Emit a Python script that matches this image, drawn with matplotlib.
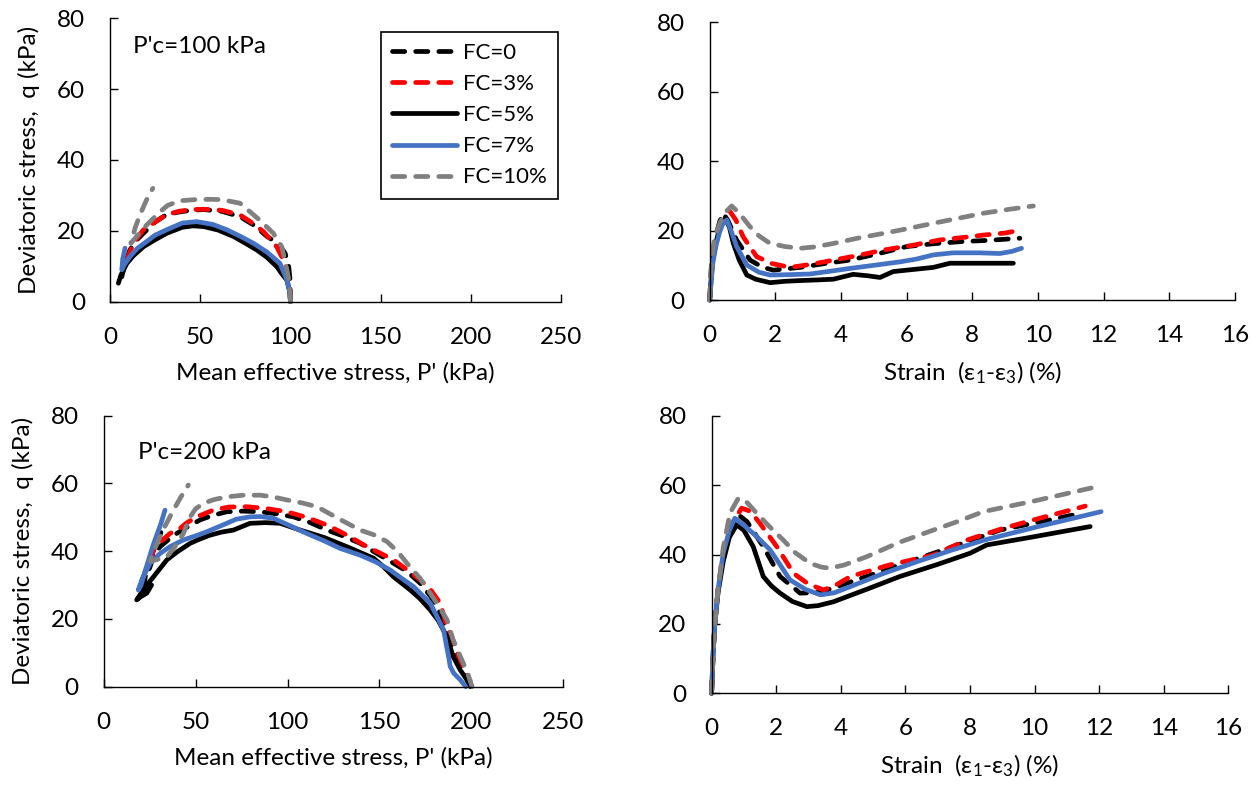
import matplotlib
matplotlib.use('Agg')
import matplotlib.pyplot as plt

plt.rcParams['font.family'] = ['Lato', 'DejaVu Sans']
plt.rcParams['mathtext.fontset'] = 'custom'
plt.rcParams['mathtext.rm'] = 'Lato'
plt.rcParams['mathtext.it'] = 'Lato:italic'
plt.rcParams['mathtext.default'] = 'rm'

labels = ['FC=0', 'FC=3%', 'FC=5%', 'FC=7%', 'FC=10%']
colors = ['black', '#FF0000', 'black', '#4472C4', '#808080']
styles = ['dash', 'dash', 'solid', 'solid', 'dash']

# --- P'c = 100 kPa : stress path (p', q) ---
p100_fc0 = [100, 99.8, 99, 97, 93, 87, 80, 72, 62, 52, 45, 38, 31, 25, 18.5, 14, 11, 8.5, 6.5]
q100_fc0 = [0, 6, 10, 13.7, 16.5, 18.4, 21.5, 24, 25.5, 26, 25.8, 25.3, 24.5, 22.5, 19.3, 17, 14.6, 11, 7]
p100_fc3 = [100, 99.5, 97, 92.4, 85, 78, 72, 62, 52, 45, 38, 31, 25, 18.5, 12.9, 9.3, 7.5]
q100_fc3 = [0, 5, 10.8, 15.5, 19.8, 22.5, 24.5, 25.8, 26.1, 26, 25.5, 24.5, 22.5, 20.3, 16.5, 11.8, 9]
p100_fc5 = [100, 99.5, 98, 95, 92.4, 87, 81.3, 75, 68.4, 60, 52, 46, 40, 31.4, 25, 18.5, 13, 9.3, 6, 4.6]
q100_fc5 = [0, 3, 6.1, 8, 9.9, 12.5, 14.6, 16.5, 18.4, 20.2, 21.2, 21.4, 21, 19.3, 17.5, 15.5, 13, 10.8, 7.5, 5.2]
p100_fc7 = [100, 99.5, 98, 94.2, 87, 79.4, 72, 64.7, 57, 48, 40, 31.4, 25, 20.3, 15, 11, 8, 6.5, 7, 8.3]
q100_fc7 = [0, 3, 6.1, 10.8, 14, 16.5, 18.5, 20.3, 21.8, 22.6, 22.2, 20.3, 18.8, 17, 15, 12.7, 10.5, 9, 12, 15.1]
p100_fc10 = [100, 99.5, 98, 95.2, 90.5, 83, 72, 62, 55.4, 47, 38.8, 32, 27.7, 20, 14, 11.5, 14, 17, 20, 23.7]
q100_fc10 = [0, 5, 9, 15.5, 19.3, 23, 27.8, 28.8, 28.9, 28.8, 28.5, 27.2, 25.4, 21.5, 18, 16.5, 21, 25, 28.5, 32]

# --- P'c = 100 kPa : strain vs q ---
e100_fc0 = [0, 0.05, 0.1, 0.2, 0.3, 0.41, 0.55, 0.82, 1.23, 1.6, 1.94, 2.75, 3.5, 4.27, 5.2, 6.0, 6.8, 7.62, 8.5, 9.45]
s100_fc0 = [0, 9, 14, 19, 22.5, 25, 23, 17.3, 11.5, 9.5, 8.6, 9.4, 10.5, 11.5, 13.5, 15.4, 16.2, 16.8, 17.2, 17.8]
e100_fc3 = [0, 0.05, 0.1, 0.2, 0.35, 0.5, 0.62, 0.8, 1.02, 1.43, 1.9, 2.45, 3.1, 3.77, 4.5, 5.29, 6.2, 7.01, 7.7, 8.33, 9.0, 9.5]
s100_fc3 = [0, 8, 13, 18, 21.5, 24, 25.5, 23, 18.2, 12.5, 10.5, 9.4, 10.3, 11.5, 12.8, 14.4, 15.8, 17.3, 18, 18.7, 19.3, 20.2]
e100_fc5 = [0, 0.05, 0.1, 0.2, 0.3, 0.47, 0.6, 0.72, 0.9, 1.13, 1.4, 1.84, 2.3, 2.75, 3.3, 3.77, 4.37, 4.8, 5.19, 5.59, 6.2, 6.81, 7.32, 8.0, 9.25]
s100_fc5 = [0, 7, 12, 17, 20.5, 23.5, 21, 16.3, 11.5, 7.2, 6, 5.0, 5.4, 5.6, 5.8, 6.0, 7.4, 7.0, 6.5, 8.2, 8.8, 9.4, 10.6, 10.6, 10.6]
e100_fc7 = [0, 0.05, 0.1, 0.2, 0.3, 0.4, 0.52, 0.65, 0.82, 1.13, 1.5, 1.84, 2.4, 3.05, 3.6, 4.27, 5.0, 5.8, 6.3, 6.81, 7.42, 8.2, 8.84, 9.2, 9.5]
s100_fc7 = [0, 6, 11, 16, 19.5, 22, 23.1, 20, 15.4, 10.1, 8, 7.2, 7.3, 7.5, 8.2, 9.1, 10, 11, 11.8, 13, 13.6, 13.6, 13.4, 14, 14.9]
e100_fc10 = [0, 0.03, 0.08, 0.15, 0.3, 0.45, 0.67, 0.9, 1.23, 1.5, 1.84, 2.3, 2.75, 3.2, 3.77, 4.5, 5.29, 6.0, 6.81, 7.6, 8.33, 9.1, 9.86]
s100_fc10 = [0, 8, 13, 18, 22, 25, 27.1, 25, 21.1, 18.5, 16.3, 15.4, 14.9, 15.3, 16.3, 17.8, 19.2, 20.5, 22.1, 23.6, 25, 26.1, 27.1]

# --- P'c = 200 kPa : stress path (p', q) ---
p200_fc0 = [200, 198, 195, 192, 188.6, 183.1, 178, 172.2, 165, 157.7, 148, 139.5, 130, 121.4, 112, 103.2, 94, 85.1, 76, 66.9,
            59, 52.4, 46, 39.7, 35, 30.6, 27, 25.2, 23, 21.5, 24, 27, 30, 33]
q200_fc0 = [0, 2.5, 4.9, 8, 12.8, 21.6, 26.5, 30.5, 34, 36.4, 39.5, 42.3, 44.5, 46.2, 48.5, 50.1, 51, 51.6, 51.8, 51.6,
            50.5, 49.2, 47.3, 45.2, 43.3, 41.3, 38.5, 35.4, 32.5, 30.5, 35, 40, 44, 48]
p200_fc3 = [200, 197, 193, 190.4, 186, 183.1, 178, 172.2, 165, 157.7, 150, 143.2, 132, 121.4, 110, 99.6, 88, 77.8, 68, 59.6,
            50.6, 45, 41.5, 36, 31, 27, 23.4, 22, 24, 27]
q200_fc3 = [0, 4, 9, 12.8, 19, 24.6, 28.5, 31.5, 34.5, 37.4, 39.5, 41.3, 44.8, 47.7, 50, 51.6, 52.6, 53.1, 53, 52.1,
            50.1, 48.3, 46.7, 45.2, 42.8, 40.3, 35.4, 33, 36, 40]
p200_fc5 = [199.5, 197, 194, 190, 186.8, 182, 177.7, 172, 166.8, 157.7, 152, 146.8, 140, 132.3, 120, 106.9, 96, 88, 79.6, 70.5,
            64, 57.8, 52, 47, 40, 34.3, 27, 22, 17.9, 20, 23.4, 26]
q200_fc5 = [0, 2.5, 4.9, 9, 14.7, 19.5, 22.6, 26, 28.5, 32.4, 35.5, 37.9, 39.5, 41.3, 44, 46.2, 48.2, 48.4, 48.2, 46.2,
            45.6, 44.7, 43.5, 42.3, 39.8, 37.4, 32.4, 29, 25.6, 26.5, 27.6, 30]
p200_fc7 = [197, 194, 190.4, 188.5, 187.6, 186.5, 184.9, 181, 177.7, 168.6, 162, 155.9, 148, 139.5, 128.6, 120, 110.5, 100,
            92.3, 85, 79.6, 72, 66.9, 56, 50, 43.3, 36, 30.6, 25.2, 21, 18.8, 20.5, 23, 27, 31, 33.3]
q200_fc7 = [0, 2, 4, 6, 8.9, 12, 16.7, 21, 24.6, 29.5, 32, 34.4, 36.8, 38.8, 40.8, 43, 45.2, 47.8,
            49.7, 50.2, 50.1, 49.4, 48.2, 45.7, 44.5, 43.3, 41.3, 39.3, 36.4, 32, 28.5, 30.5, 35, 42, 48, 52.1]
p200_fc10 = [200.4, 198, 194, 190, 186.8, 182, 177.7, 172, 165, 160, 154.1, 147, 139.5, 128, 116, 108, 99.6, 92, 85.1, 76,
             66.9, 60, 54.2, 50, 47, 43.3, 39, 34.3, 29, 25.2, 28, 32, 37.9, 42, 46]
q200_fc10 = [0, 4, 8.9, 14, 19.7, 24, 27.5, 32, 36.4, 39.8, 42.8, 44.8, 46.2, 49.5, 53.1, 54.2, 55.1, 56, 56.5, 56.5,
             56, 55.2, 54.1, 52.5, 50.1, 45.2, 41.5, 38.3, 37.5, 37, 41, 46, 52.1, 56, 59.5]

# --- P'c = 200 kPa : strain vs q ---
e200_fc0 = [0, 0.05, 0.1, 0.2, 0.36, 0.57, 0.83, 1.1, 1.6, 2.12, 2.74, 3.2, 3.57, 4.2, 4.8, 5.8, 6.87, 8.0, 8.93, 10.2, 11.42]
s200_fc0 = [0, 12, 20, 30, 40, 47.5, 51.5, 49.5, 42.3, 33.7, 28.9, 29, 29.8, 31.8, 33.7, 37, 40.4, 44, 47.1, 49.5, 51.9]
e200_fc3 = [0, 0.05, 0.1, 0.2, 0.36, 0.6, 0.93, 1.2, 1.5, 2.02, 2.54, 3.0, 3.47, 3.9, 4.3, 5.5, 6.87, 7.9, 9.0, 9.96, 11.57]
s200_fc3 = [0, 12, 20, 30, 40, 48.5, 53.4, 52.5, 49, 42.3, 34.6, 31.5, 29.8, 31.5, 33.7, 37, 39.9, 44.2, 47.5, 50, 54]
e200_fc5 = [0, 0.05, 0.1, 0.2, 0.36, 0.55, 0.78, 1.0, 1.29, 1.6, 1.85, 2.12, 2.5, 2.95, 3.3, 3.77, 4.8, 5.83, 7.0, 8.0, 8.52, 10.0, 11.72]
s200_fc5 = [0, 12, 20, 29, 38, 45, 48.6, 47, 42.3, 33.7, 31, 28.9, 26.5, 25, 25.3, 26.4, 30, 33.7, 37.2, 40.4, 42.8, 45.2, 48.1]
e200_fc7 = [0, 0.05, 0.1, 0.2, 0.36, 0.55, 0.72, 1.0, 1.4, 1.8, 2.02, 2.43, 2.9, 3.37, 3.8, 4.3, 5.3, 6.37, 7.4, 8.44, 10.2, 12.06]
s200_fc7 = [0, 12, 20, 29.8, 40.4, 47, 50.5, 48.5, 45.2, 41.5, 38.5, 32.7, 30, 28.4, 29, 30.8, 34.5, 38, 41.2, 44.2, 48.3, 52.4]
e200_fc10 = [0, 0.05, 0.1, 0.2, 0.36, 0.57, 0.83, 1.1, 1.4, 1.8, 2.22, 2.6, 3.05, 3.4, 3.67, 4.1, 4.8, 5.8, 6.87, 7.6, 8.41, 10.0, 11.93]
s200_fc10 = [0, 12, 20, 30, 42, 52, 56.3, 55, 51.9, 48, 44.2, 40.5, 37.5, 36.4, 36.1, 37, 39.4, 43.5, 47.1, 49.5, 52.4, 55.5, 59.6]

FS = 17.5
LW = 3.4

fig = plt.figure(figsize=(12.55, 7.85), dpi=100)
ax_tl = fig.add_axes([0.0877, 0.6157, 0.3594, 0.3610])
ax_tr = fig.add_axes([0.5655, 0.6178, 0.4185, 0.3538])
ax_bl = fig.add_axes([0.0827, 0.1252, 0.3661, 0.3455])
ax_br = fig.add_axes([0.5670, 0.1168, 0.4118, 0.3533])


def draw(ax, xs, ys):
    for x, y, c, st, lab in zip(xs, ys, colors, styles, labels):
        ls = (0, (2.6, 2.3)) if st == 'dash' else '-'
        ax.plot(x, y, color=c, lw=LW, linestyle=ls, dash_capstyle='round',
                solid_capstyle='round', solid_joinstyle='round', label=lab, clip_on=False)


def style(ax, xmax, xstep):
    ax.set_xlim(0, xmax)
    ax.set_ylim(0, 80)
    ax.set_xticks(range(0, xmax + 1, xstep))
    ax.set_yticks(range(0, 81, 20))
    ax.spines['top'].set_visible(False)
    ax.spines['right'].set_visible(False)
    for s in ['left', 'bottom']:
        ax.spines[s].set_linewidth(1.0)
    ax.tick_params(direction='in', length=6, width=1.0, pad=18, labelsize=FS)


draw(ax_tl, [p100_fc0, p100_fc3, p100_fc5, p100_fc7, p100_fc10],
     [q100_fc0, q100_fc3, q100_fc5, q100_fc7, q100_fc10])
draw(ax_tr, [e100_fc0, e100_fc3, e100_fc5, e100_fc7, e100_fc10],
     [s100_fc0, s100_fc3, s100_fc5, s100_fc7, s100_fc10])
draw(ax_bl, [p200_fc0, p200_fc3, p200_fc5, p200_fc7, p200_fc10],
     [q200_fc0, q200_fc3, q200_fc5, q200_fc7, q200_fc10])
draw(ax_br, [e200_fc0, e200_fc3, e200_fc5, e200_fc7, e200_fc10],
     [s200_fc0, s200_fc3, s200_fc5, s200_fc7, s200_fc10])

style(ax_tl, 250, 50)
style(ax_bl, 250, 50)
style(ax_tr, 16, 2)
style(ax_br, 16, 2)

for ax in [ax_tl, ax_bl]:
    ax.set_xlabel("Mean effective stress, P' (kPa)", fontsize=FS, labelpad=10)
    ax.set_ylabel("Deviatoric stress,  q (kPa)", fontsize=FS, labelpad=12)
for ax in [ax_tr, ax_br]:
    ax.set_xlabel("Strain  (ε$_1$-ε$_3$) (%)", fontsize=FS, labelpad=10)

ax_tl.text(0.051, 0.899, "P'c=100 kPa", transform=ax_tl.transAxes, fontsize=FS, va='center', ha='left')
ax_bl.text(0.074, 0.865, "P'c=200 kPa", transform=ax_bl.transAxes, fontsize=FS, va='center', ha='left')

leg = ax_tl.legend(loc='upper left', bbox_to_anchor=(0.601, 0.952), borderaxespad=0, fontsize=16,
                   frameon=True, fancybox=False, framealpha=1, edgecolor='black',
                   handlelength=2.9, handletextpad=0.3, labelspacing=0.5, borderpad=0.5)
leg.get_frame().set_linewidth(1.2)

fig.savefig('out.png', dpi=100)
